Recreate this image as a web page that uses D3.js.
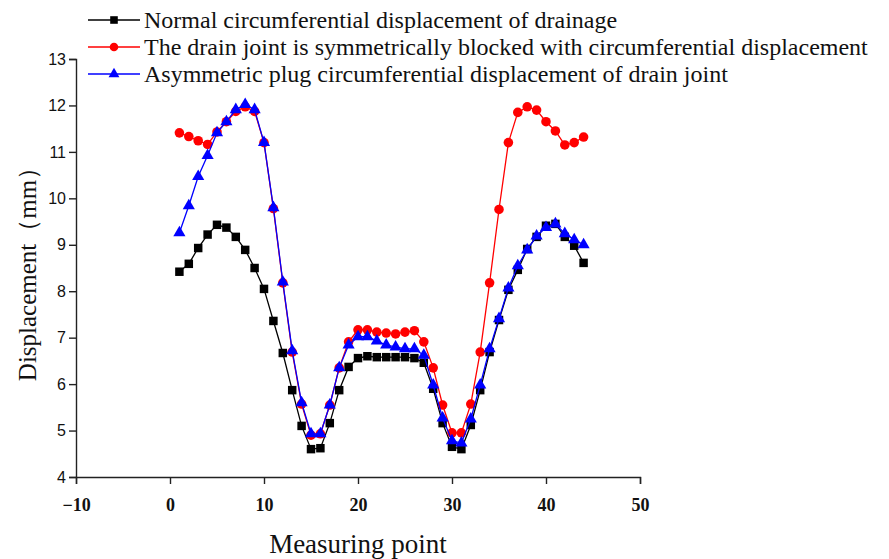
<!DOCTYPE html>
<html>
<head>
<meta charset="utf-8">
<script src="https://cdn.jsdelivr.net/npm/d3@7"></script>
<style>
  html, body { margin: 0; padding: 0; background: #fff; }
  svg { display: block; }
</style>
</head>
<body>
<svg id="chart" width="889" height="559"></svg>
<script>
// Measuring points 1..44
const points = d3.range(1, 45);

const seriesNames = [
  "Normal circumferential displacement of drainage",
  "The drain joint is symmetrically blocked with circumferential displacement",
  "Asymmetric plug circumferential displacement of drain joint"
];

// Displacement (mm) at each measuring point
const normalDisp = [
  8.42, 8.59, 8.93, 9.22, 9.43, 9.37, 9.17, 8.89, 8.50, 8.05,
  7.36, 6.67, 5.87, 5.10, 4.60, 4.62, 5.16, 5.87, 6.37, 6.56,
  6.60, 6.58, 6.58, 6.58, 6.58, 6.56, 6.46, 5.90, 5.16, 4.65,
  4.60, 5.12, 5.87, 6.69, 7.38, 8.03, 8.46, 8.91, 9.17, 9.41,
  9.45, 9.17, 8.98, 8.61
];
const symBlockedDisp = [
  11.41, 11.33, 11.24, 11.16, 11.43, 11.65, 11.87, 11.97, 11.87, 11.20,
  9.78, 8.18, 6.69, 5.57, 4.90, 4.93, 5.55, 6.35, 6.91, 7.17,
  7.17, 7.12, 7.10, 7.08, 7.12, 7.15, 6.91, 6.35, 5.55, 4.95,
  4.95, 5.57, 6.69, 8.18, 9.76, 11.20, 11.85, 11.97, 11.90, 11.65,
  11.45, 11.15, 11.20, 11.32
];
const asymPlugDisp = [
  9.26, 9.84, 10.47, 10.92, 11.41, 11.65, 11.91, 12.02, 11.91, 11.20,
  9.80, 8.20, 6.72, 5.60, 4.93, 4.93, 5.55, 6.35, 6.84, 7.02,
  7.02, 6.93, 6.84, 6.80, 6.76, 6.76, 6.62, 5.98, 5.27, 4.78,
  4.73, 5.25, 5.98, 6.76, 7.41, 8.07, 8.55, 8.89, 9.19, 9.37,
  9.45, 9.24, 9.11, 9.00
];

const xTicks = [-10, 0, 10, 20, 30, 40, 50];
const yTicks = [4, 5, 6, 7, 8, 9, 10, 11, 12, 13];

const svg = d3.select("#chart");
const margin = { left: 76, right: 249, top: 59, bottom: 82 };
const W = 889, H = 559;

const x = d3.scaleLinear().domain([-10, 50]).range([margin.left, W - margin.right]);
const y = d3.scaleLinear().domain([4, 13]).range([H - margin.bottom, margin.top]);

const axisColor = "#222";

// X axis: major ticks every 10, minor every 5
const xAxisG = svg.append("g").attr("transform", `translate(0,${y(4)})`);
xAxisG.call(d3.axisBottom(x).tickValues(d3.range(-10, 51, 5)).tickSize(4).tickFormat(""))
  .call(g => g.select(".domain").remove());
xAxisG.call(d3.axisBottom(x).tickValues(xTicks).tickSize(7)
  .tickFormat(d => d < 0 ? "\u2212" + Math.abs(d) : d));
xAxisG.selectAll("line").attr("stroke", axisColor).attr("stroke-width", 1.4);
xAxisG.selectAll(".domain").attr("stroke", axisColor).attr("stroke-width", 1.4);
xAxisG.selectAll("text")
  .attr("dy", "1.35em")
  .attr("fill", "#111")
  .style("font-family", "'Liberation Serif', 'Times New Roman', serif")
  .style("font-weight", "bold")
  .style("font-size", "18px");

// Y axis: major ticks every 1, minor every 0.5
const yAxisG = svg.append("g").attr("transform", `translate(${x(-10)},0)`);
yAxisG.call(d3.axisLeft(y).tickValues(d3.range(4, 13.01, 0.5)).tickSize(4).tickFormat(""))
  .call(g => g.select(".domain").remove());
yAxisG.call(d3.axisLeft(y).tickValues(yTicks).tickSize(7));
yAxisG.selectAll("line").attr("stroke", axisColor).attr("stroke-width", 1.4);
yAxisG.selectAll(".domain").attr("stroke", axisColor).attr("stroke-width", 1.4);
yAxisG.selectAll("text")
  .attr("x", -10)
  .attr("fill", "#111")
  .style("font-family", "'Liberation Sans', Arial, sans-serif")
  .style("font-size", "16px");

// Axis titles
svg.append("text")
  .attr("x", x(20)).attr("y", 553)
  .attr("text-anchor", "middle")
  .style("font-family", "'Liberation Serif', 'Times New Roman', serif")
  .style("font-size", "27px")
  .attr("fill", "#111")
  .text("Measuring point");

svg.append("text")
  .attr("transform", `translate(36,${y(8.5)}) rotate(-90)`)
  .attr("text-anchor", "middle")
  .style("font-family", "'Liberation Serif', 'Times New Roman', serif")
  .style("font-size", "25px")
  .attr("fill", "#111")
  .text("Displacement\uFF08mm\uFF09");

// Series definitions
const series = [
  { name: seriesNames[0], values: normalDisp, color: "#000000", symbol: d3.symbolSquare, size: 72 },
  { name: seriesNames[1], values: symBlockedDisp, color: "#ff0000", symbol: d3.symbolCircle, size: 72 },
  { name: seriesNames[2], values: asymPlugDisp, color: "#0000ff", symbol: d3.symbolTriangle, size: 64 }
];

const line = d3.line().x(d => x(d[0])).y(d => y(d[1]));

series.forEach(s => {
  const data = points.map((p, i) => [p, s.values[i]]);
  const g = svg.append("g");
  g.append("path")
    .datum(data)
    .attr("d", line)
    .attr("fill", "none")
    .attr("stroke", s.color)
    .attr("stroke-width", 1.3);
  g.selectAll("path.m")
    .data(data)
    .join("path")
    .attr("class", "m")
    .attr("transform", d => `translate(${x(d[0])},${y(d[1])})`)
    .attr("d", d3.symbol().type(s.symbol).size(s.size))
    .attr("fill", s.color);
});

// Legend
const legend = svg.append("g");
series.forEach((s, i) => {
  const ly = 20 + i * 27;
  legend.append("line")
    .attr("x1", 88).attr("x2", 140).attr("y1", ly).attr("y2", ly)
    .attr("stroke", s.color).attr("stroke-width", 1.5);
  legend.append("path")
    .attr("transform", `translate(114,${ly})`)
    .attr("d", d3.symbol().type(s.symbol).size(s.size * 0.8))
    .attr("fill", s.color);
  legend.append("text")
    .attr("x", 144).attr("y", ly)
    .attr("dy", "0.33em")
    .style("font-family", "'Liberation Serif', 'Times New Roman', serif")
    .style("font-size", "24px")
    .attr("fill", "#111")
    .text(s.name);
});
</script>
</body>
</html>
